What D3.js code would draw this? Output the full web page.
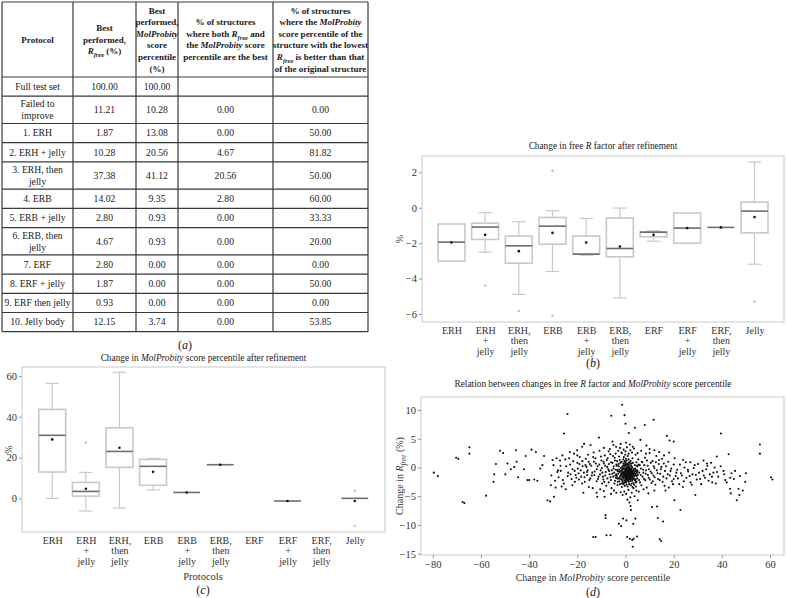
<!DOCTYPE html>
<html><head><meta charset="utf-8">
<script src="https://cdn.jsdelivr.net/npm/d3@7"></script>
<style>
body{margin:0;background:#fff}
svg{display:block}
</style>
</head><body>
<svg id="c" width="786" height="598"></svg>
<script>
// ---------------- DATA ----------------
// (a) table
const tableProtocols = ["Full test set","Failed to\nimprove","1. ERH","2. ERH + jelly","3. ERH, then\njelly","4. ERB","5. ERB + jelly","6. ERB, then\njelly","7. ERF","8. ERF + jelly","9. ERF then jelly","10. Jelly body"];
const bestRfree = ["100.00","11.21","1.87","10.28","37.38","14.02","2.80","4.67","2.80","1.87","0.93","12.15"];
const bestMolProbity = ["100.00","10.28","13.08","20.56","41.12","9.35","0.93","0.93","0.00","0.00","0.00","3.74"];
const bothBest = ["","0.00","0.00","4.67","20.56","2.80","0.00","0.00","0.00","0.00","0.00","0.00"];
const lowestRfreeBetter = ["","0.00","50.00","81.82","50.00","60.00","33.33","20.00","0.00","50.00","0.00","53.85"];

// (b), (c) categories
const protocols = ["ERH","ERH\n+\njelly","ERH,\nthen\njelly","ERB","ERB\n+\njelly","ERB,\nthen\njelly","ERF","ERF\n+\njelly","ERF,\nthen\njelly","Jelly"];

// (b) change in free R factor (%)
const rfreeWhiskerLow  = [-3.02,-2.51,-4.89,-3.60,-2.68,-5.09,-1.89,-2.00,-1.11,-3.19];
const rfreeQ1          = [-3.02,-1.79,-3.13,-2.06,-2.62,-2.77,-1.64,-2.00,-1.11,-1.42];
const rfreeMedian      = [-1.94,-1.09,-2.15,-1.04,-2.62,-2.30,-1.38,-1.15,-1.11,-0.19];
const rfreeQ3          = [-0.92,-0.87,-1.60,-0.55,-1.60,-0.58,-1.36,-0.30,-1.11, 0.32];
const rfreeWhiskerHigh = [-0.92,-0.28,-0.79,-0.17,-0.60,-0.02,-1.30,-0.30,-1.11, 2.58];
const rfreeMean        = [-1.96,-1.53,-2.45,-1.42,-1.96,-2.19,-1.53,-1.15,-1.11,-0.53];
const rfreeOutliers    = [[],[-4.4],[-5.83],[2.09,-6.09],[],[],[],[],[],[-5.3]];
const rfreeTicks = [-6,-4,-2,0,2];

// (c) change in MolProbity score percentile (%)
const molWhiskerLow  = [0.0,-6.2,-4.8, 4.1,2.9,16.5,null,-1.3,null,0.0];
const molQ1          = [12.9, 1.1,15.2, 6.4,2.9,16.5,null,-1.3,null,0.0];
const molMedian      = [30.9, 3.4,23.0,15.7,2.9,16.5,null,-1.3,null,0.0];
const molQ3          = [43.6, 7.8,34.6,19.1,2.9,16.5,null,-1.3,null,0.0];
const molWhiskerHigh = [56.4,12.7,61.8,19.6,2.9,16.5,null,-1.3,null,0.0];
const molMean        = [28.9, 4.7,24.8,13.0,2.9,16.5,null,-1.3,null,-1.3];
const molOutliers    = [[],[27.3],[],[],[],[],[],[],[],[3.7,-13.6]];
const molTicks = [0,20,40,60];

// (d) scatter: [change in MolProbity score percentile, change in Rfree (%)]
const scatterPoints = [
[-79.6,-0.9],[-77.9,-1.5],[-70.3,1.7],[-69.4,1.5],[-64.8,3.5],[-64.8,2.4],[-67.6,-6.0],[-66.9,-6.2],[-57.9,-4.9],
[-54.8,-2.5],[-54.5,-1.2],[-53.8,0.6],[-52.1,2.9],[-50.8,2.5],[-49.9,-1.2],[-49,0.7],[-47.6,-0.3],[-45.5,3.0],
[-45.2,1.0],[-46.2,0.1],[-44.6,-1.7],[-42.1,-0.3],[-41.4,2.0],[-40.7,-2.2],[-40,-2.2],[-39,3.1],[-37.9,-2.1],
[-37.2,2.7],[-36.6,-2.3],[-35.4,-0.2],[-34.5,0.4],[-33.8,2.0],[-32.4,-5.7],[-31.3,-5.9],[-31,-3.1],[-30.3,1.3],
[-29.7,-5.1],[-29,-3.5],[-28.3,-0.8],[-27.2,1.2],[-26.5,-3.3],[-25.5,5.9],[-24.8,-3.8],[-24.1,9.3],[-23.4,1.6],
[-22.8,-1.2],[-22.1,-3.1],[-21.4,2.4],[-20.7,-1.3],[-19.3,-2.1],[-18.6,-0.5],[-17.5,-4.4],[-17.2,4.1],[-16.6,0.4],
[-15.9,-1.3],[-15.2,-3.4],[-14.5,3.9],[-13.4,-12.1],[-12.4,-12.1],[-13.1,1.0],[-11.7,-5.1],[-11,5.2],[-10.3,-0.5],
[-9.7,-2.8],[-8.7,-5.1],[-8.3,-8.3],[-8.3,-8.8],[-7.9,-11.8],[-6.2,-11.8],[-5.9,9.0],[-5.4,4.5],[-4.8,-4.0],
[-4.1,2.4],[-3.4,-1.9],[-2.8,-9.8],[-1.8,-10.2],[-1.4,10.9],[-1.0,-8.9],[-0.4,9.1],[0,7.6],[0.4,-9.2],[0.7,-12.1],
[1.4,6.0],[1.8,-12.4],[2.1,-6.7],[2.3,-7.4],[2.8,-12.6],[3.0,-13.8],[3.2,-9.8],[3.4,-12.4],[3.9,6.9],[4.1,-8.9],
[4.8,-12.0],[5.1,-5.7],[6.2,4.8],[8.0,7.4],[8.7,3.8],[11.0,-6.9],[11.7,8.3],[13.1,-6.8],[13.4,-8.8],[14.2,-12.5],
[14.8,-12.8],[15.6,-9.4],[16.6,-4.0],[17.2,5.5],[18.3,4.7],[20.0,4.5],[20.3,-5.7],[22.8,-7.4],[23.9,1.3],[26.9,0.9],
[29,-4.8],[32.4,1.2],[33.8,0.7],[35.9,-1.6],[37.9,1.9],[39.6,5.9],[40.7,-0.6],[41.4,-2.2],[42.8,2.3],[43.4,-3.7],
[43.7,-4.5],[46.2,-5.7],[46.9,-3.7],[47.3,-4.8],[48.7,-4.0],[49.7,-2.5],[55.8,4.0],[55.8,2.4],[60.4,-1.7],[61,-2.1],
[-28,-0.5],[-27,0.3],[-26,-2.2],[-25,1.4],[-24,-1.5],[-23,0.5],[-22,-0.3],[-21,-2.5],[-20,0.8],[-19.5,-1],[-19,1.8],
[-18,-2.8],[-17.8,0.2],[-17,-1.7],[-16.5,1.5],[-16,-0.8],[-15.5,2.2],[-15,-2.2],[-14.8,0.6],[-14,-1.4],[-13.6,-3.6],
[-13.2,2.6],[-12.8,-0.7],[-12.5,1.6],[-12,-2.4],[-11.6,0.2],[-11.2,-1.6],[-10.8,2.9],[-10.5,-3.8],[-10,1.2],[-9.6,-0.9],
[-9.2,-2.1],[-9,0.7],[-8.6,2.1],[-8.4,-1.4],[-8,-3.2],[-7.6,0.1],[-7.4,1.6],[-7,-2.6],[-6.8,-0.6],[-6.5,3.2],[-6.2,-1.7],
[-6,0.9],[-5.8,-3.6],[-5.5,-1.1],[-5.2,2.0],[-5,-0.2],[-4.6,-2.8],[-4.4,1.2],[-4.2,-1.4],[-3.9,3.6],[-3.6,0.3],[-3.3,-3.1],
[-3,-0.7],[-2.7,1.9],[-2.5,-2.4],[-2.2,0.8],[-2,-1.4],[-1.7,2.6],[-1.5,-3.4],[-1.3,0.1],[-1.1,-0.8],[-0.9,1.4],[-0.7,-2.7],
[-0.6,0.6],[-0.3,-1.5],[-0.1,2.2],
[5,-0.6],[5.3,1.4],[5.6,-2.2],[5.9,0.4],[6.3,-1.3],[6.6,-3.1],[7,0.9],[7.3,-0.4],[7.7,-2.0],[8.1,1.7],[8.4,-1.1],[8.8,-3.5],
[9.2,0.3],[9.6,-1.8],[10,2.5],[10.4,-0.7],[10.8,-2.7],[11.2,1.1],[11.6,-1.4],[12,-0.1],[12.4,-3.0],[12.8,2.0],[13.3,-1.0],
[13.8,0.6],[14.2,-2.2],[14.7,-0.3],[15.2,1.5],[15.7,-1.6],[16.2,-3.2],[16.8,0.2],[17.5,-1.2],[18.1,2.6],[18.7,-0.6],
[19.3,-2.4],[20,0.5],[20.8,-1.5],[21.5,-0.4],[22.3,-2.9],[23,-1.0],[23.8,-3.4],[24.5,0.0],[25.3,-1.8],[26,-0.7],[27,-2.6],
[27.8,-1.2],[28.7,0.4],[29.6,-2.1],[30.5,-0.9],[31.4,-2.9],[32.5,-1.4],[33.5,-0.3],[34.5,-2.3],[35.5,0.8],[36.5,-0.9],
[37.5,-2.8],[38.5,-1.6],[39.5,0.2],[41,-1.2],[42,-2.6],[44,-1.0],[45,-2.0],
[-0.5,-4.2],[0.3,-4.6],[1.2,-3.9],[2,-5.2],[2.6,-4.4],[3.3,-3.6],[-1.2,-4.8],[0.8,-5.6],[1.6,-6.1],[-2,-4.3],[3.8,-5.0],[4.5,-4.0],
[-1.5,2.5],[-0.8,3.1],[0,2.8],[0.6,3.5],[1.3,2.4],[2,3.0],[2.7,2.6],[3.5,3.3],[4.2,2.2],[-2.3,3.4],[0.2,4.3],[1.8,4.0],
[0,-1.0],[0.3,-1.2],[0.6,-0.9],[0.9,-1.5],[1.2,-1.1],[1.5,-0.7],[1.8,-1.3],[2.1,-0.9],[2.4,-1.6],[2.7,-1.0],[0.1,-0.4],
[0.4,-0.2],[0.7,-0.6],[1.0,0.0],[1.3,-0.3],[1.6,-1.8],[1.9,-2.1],[2.2,-0.2],[2.5,-0.5],[2.8,-2.3],[0.2,-1.7],[0.5,-2.0],
[0.8,-2.3],[1.1,-1.9],[1.4,-2.5],[1.7,-0.1],[2.0,-1.5],[2.3,-1.2],[2.6,-2.8],[2.9,-0.7],[-0.2,-1.1],[-0.4,-0.7],[-0.6,-1.4],
[-0.8,-0.3],[-1.0,-1.8],[-1.2,-0.9],[-1.4,-2.2],[-1.6,-0.5],[-1.8,-1.2],[-2.0,-0.1],[0.0,-1.5],[0.2,-0.8],[0.4,-1.6],
[0.6,-1.3],[0.8,-0.5],[1.0,-1.2],[1.2,-0.7],[1.4,-1.0],[1.6,-1.4],[1.8,-0.4],[0.1,-2.2],[0.3,-2.6],[0.5,-0.1],[0.7,0.3],
[0.9,-0.8],[1.1,0.4],[1.3,-1.6],[1.5,0.2],[1.7,-1.0],[1.9,0.6],[3.0,-1.4],[3.2,-0.6],[3.4,-1.9],[3.6,-0.9],[3.8,-1.3],
[4.0,-0.2],[4.2,-2.1],[4.4,-0.7],[4.6,-1.5],[4.8,0.3],[-2.2,-1.6],[-2.4,-0.8],[-2.6,-1.9],[-2.8,0.2],[-3.0,-1.1],[-3.2,-2.5],
[-3.4,-0.4],[-3.6,-1.5],[-3.8,0.5],[-4.0,-1.8],[0.0,-0.6],[0.0,-2.0],[0.1,0.2],[0.2,-1.3],[0.3,0.6],[0.4,-1.0],[0.5,-1.4],
[0.6,-1.8],[0.7,-1.1],[0.8,-1.6],[0.9,-0.3],[1.0,-0.6],[1.1,-1.4],[1.2,-2.2],[1.3,0.8],[1.4,-0.5],[1.5,-1.2],[1.6,-0.3],
[1.7,-2.0],[1.8,-0.8],[2.0,-0.5],[2.1,-1.8],[2.2,-1.0],[2.3,0.3],[2.4,-0.8],[2.5,-2.0],[2.6,-1.2],[2.7,0.1],[2.8,-1.5],
[2.9,-1.1],[-0.1,-1.8],[-0.3,0.3],[-0.5,-2.3],[-0.7,-1.0],[-0.9,0.7],[-1.1,-1.5],[-1.3,-0.2],[-1.5,-2.8],[-1.7,-1.1],
[-1.9,0.9],[3.1,0.8],[3.3,-2.7],[3.5,-0.3],[3.7,-2.0],[3.9,0.4],[4.1,-1.1],[4.3,-2.6],[4.5,0.9],[4.7,-0.5],[4.9,-1.9],
[-19.8,-0.2],[-19.1,0.6],[-18.4,-1.6],[-17.9,1.1],[-17.3,-0.9],[-16.9,-2.5],[-16.2,0.1],[-15.7,-0.5],[-15.3,1.0],[-14.6,-1.9],
[-14.2,0.3],[-13.8,-0.9],[-13.4,1.8],[-12.9,-1.3],[-12.3,0.7],[-11.9,-0.3],[-11.4,-2.0],[-10.9,0.5],[-10.6,-1.2],[-10.2,1.9],
[-9.8,-0.1],[-9.4,-1.6],[-9.1,1.0],[-8.8,-2.5],[-8.5,0.3],[-8.2,-0.8],[-7.8,1.3],[-7.5,-1.9],[-7.2,-0.3],[-6.9,0.6],
[-6.6,-1.2],[-6.3,2.3],[-6.1,-2.2],[-5.7,-0.5],[-5.4,0.8],[-5.1,-1.6],[-4.9,0.2],[-4.7,-0.9],[-4.5,1.7],[-4.3,-2.3],
[-4.1,-0.4],[-3.8,-1.2],[-3.5,1.1],[-3.3,-0.6],[-3.1,-1.9],[-2.9,0.6],[-2.6,-0.4],[-2.4,1.3],[-2.1,-2.0],[-1.9,-0.6],
[-1.6,1.0],[-1.4,-1.1],[-1.2,-2.5],[-1.0,0.3],[-0.8,-1.7],[-0.6,-0.1],[-0.4,1.0],[-0.2,-2.6],[0.0,0.5],[0.2,1.5],
[5.1,-1.3],[5.4,0.5],[5.7,-0.9],[6.0,-2.6],[6.4,-0.2],[6.7,1.0],[7.1,-1.6],[7.4,-0.9],[7.8,0.4],[8.2,-2.2],[8.5,-0.5],
[8.9,1.2],[9.3,-1.3],[9.7,-0.3],[10.1,-2.1],[10.5,0.8],[10.9,-1.0],[11.3,-2.4],[11.7,0.2],[12.1,-1.7],[12.6,0.9],[13.0,-0.5],
[13.5,-2.0],[13.9,1.3],[14.4,-1.1],[14.9,0.1],[15.4,-2.5],[15.9,0.7],[16.4,-0.6],[17.0,-1.9],[17.7,1.0],[18.4,-1.4],
[19.0,-0.2],[19.7,-2.9],[20.4,1.6],[21.1,-0.9],[21.8,-1.9],[22.6,0.5],[23.4,-1.4],[24.2,-2.4],[25.0,0.9],[25.9,-0.4],
[26.6,-1.5],[27.5,-3.0],[28.3,-0.1],[29.2,-1.3],[30.1,0.6],[31.0,-2.0],[32.0,-0.6],[33.0,-1.8],[34.0,0.3],[35.0,-1.2],
[36.0,-2.6],[37.0,0.0],[38.0,-0.8],[43.5,-1.8],[45.5,-0.6],[47.5,-1.5],[50,-1.0],
[-30.8,-1.4],[-29.9,0.4],[-29.2,-2.3],[-28.6,1.6],[-27.8,-1.7],[-26.9,-0.6],[-26.2,2.1],[-25.6,-2.8],[-24.6,0.2],
[-23.8,-0.9],[-23.1,2.7],[-22.4,-2.0],[-21.7,1.1],[-21.1,-0.6],[-20.4,-1.8],[-20.1,3.0],
[0.05,-1.25],[0.35,-0.85],[0.65,-1.55],[0.95,-1.05],[1.25,-0.45],[1.55,-1.65],[1.85,-1.05],[2.15,-1.35],[2.45,-0.25],
[2.75,-1.75],[0.15,-2.45],[0.45,-0.55],[0.75,-2.05],[1.05,-0.95],[1.35,-1.85],[1.65,-0.65],[1.95,-1.55],[2.25,-0.75],
[2.55,-1.45],[2.85,-0.95],[0.25,-0.15],[0.55,-1.05],[0.85,-1.25],[1.15,-2.15],[1.45,-0.15],[1.75,-1.25],[2.05,-2.35],
[2.35,-1.05],[2.65,-0.55],[2.95,-2.05],[-0.15,-0.45],[-0.35,-1.35],[-0.55,-0.85],[-0.75,-1.95],[-0.95,-1.15],[-1.15,-0.35],
[-1.35,-1.65],[-1.55,-0.95],[-1.75,-2.05],[-1.95,-1.45],[3.15,-1.15],[3.35,-0.25],[3.55,-1.55],[3.75,-0.75],[3.95,-2.25],
[4.15,-0.45],[4.35,-1.35],[4.55,-2.45],[4.75,-0.95],[4.95,0.15],[0.1,0.9],[0.5,1.2],[0.9,0.6],[1.3,1.4],[1.7,0.9],
[2.1,1.1],[2.5,0.7],[2.9,1.6],[-0.3,1.1],[-0.7,1.8],[0.4,-3.0],[0.9,-3.3],[1.5,-2.9],[2.2,-3.1],[2.9,-3.4],[-0.3,-3.2],
[-0.9,-2.9],[3.6,-3.0],[4.3,-3.3],[-2.3,-2.9],
[-9,3.4],[-7,2.8],[-5,3.9],[-3,2.9],[-2,4.1],[1,2.0],[3,3.6],[5,2.5],[6.5,2.9],[8.5,2.4],[10,3.2],[12,3.0],[14,2.7],
[-12,-4.4],[-9,-4.1],[-6,-4.6],[-3.8,-4.4],[5.5,-4.2],[7.5,-3.8],[9.5,-4.5],[12,-4.0],[-18,3.6],[-20,2.1],[16,2.1],
[18,-3.5],[20,-2.0]
];
const scatterXTicks = [-80,-60,-40,-20,0,20,40,60];
const scatterYTicks = [-15,-10,-5,0,5,10];

// ---------------- DRAWING ----------------
const FONT = "'Liberation Serif','Times New Roman',serif";
const svg = d3.select("#c").attr("font-family", FONT);
const LIGHT = "#c9c9c9";

function rich(parent, x, y, lines, o) {
  const size = o.size, lh = o.lh || size * 1.15;
  const t = parent.append("text")
    .attr("text-anchor", o.anchor || "middle")
    .attr("font-family", FONT)
    .attr("font-size", size)
    .attr("font-weight", o.weight || 400)
    .attr("fill", o.fill || "#1a1a1a");
  let x0 = x, yc = y;
  if (o.rotate) { t.attr("transform", `translate(${x},${y}) rotate(${o.rotate})`); x0 = 0; yc = 0; }
  const y0 = yc - (lines.length - 1) * lh / 2 + size * 0.35;
  let shift = 0;
  lines.forEach((line, li) => {
    const segs = typeof line === "string" ? [[line]] : line;
    segs.forEach((s, si) => {
      const seg = typeof s === "string" ? [s] : s;
      const st = seg[1] || "";
      const ts = t.append("tspan").text(seg[0]);
      if (si === 0) ts.attr("x", x0);
      if (li === 0 && si === 0) ts.attr("y", y0);
      const target = st.includes("s") ? size * 0.3 : 0;
      const dy = (si === 0 && li > 0 ? lh : 0) + target - shift;
      shift = target;
      if (dy) ts.attr("dy", dy);
      if (st.includes("i")) ts.attr("font-style", "italic");
      if (st.includes("s")) ts.attr("font-size", size * 0.72);
    });
  });
  return t;
}

function panelLabel(x, y, letter) {
  svg.append("text").attr("x", x).attr("y", y).attr("text-anchor", "middle")
    .attr("font-family", FONT).attr("font-size", 12).attr("fill", "#1a1a1a")
    .call(t => { t.append("tspan").text("("); t.append("tspan").attr("font-style","italic").text(letter); t.append("tspan").text(")"); });
}

// ---------- (a) table ----------
(function table() {
  const g = svg.append("g");
  const colX = [2, 73, 136, 178, 273, 368];
  const heights = [75];
  tableProtocols.forEach(p => heights.push(p.includes("\n") ? 27.3 : 19.2));
  const rowY = [2];
  heights.forEach(h => rowY.push(rowY[rowY.length - 1] + h));
  const top = rowY[0], bottom = rowY[rowY.length - 1];
  const stroke = "#3a3a3a";
  rowY.forEach(yy => g.append("line").attr("x1", colX[0]).attr("x2", colX[5]).attr("y1", yy).attr("y2", yy).attr("stroke", stroke).attr("stroke-width", 1.2));
  colX.forEach(xx => g.append("line").attr("x1", xx).attr("x2", xx).attr("y1", top).attr("y2", bottom).attr("stroke", stroke).attr("stroke-width", 1.2));
  const cx = i => (colX[i] + colX[i + 1]) / 2;
  const hy = (rowY[0] + rowY[1]) / 2;
  const H = { size: 9, lh: 11.6, weight: 700 };
  rich(g, cx(0), hy, ["Protocol"], H);
  rich(g, cx(1), hy, ["Best", "performed,", [["R", "i"], ["free", "is"], [" (%)"]]], H);
  rich(g, cx(2), hy, ["Best", "performed,", [["MolProbity", "i"]], "score", "percentile", "(%)"], H);
  rich(g, cx(3), hy, ["% of structures", [["where both "], ["R", "i"], ["free", "is"], [" and"]], [["the "], ["MolProbity", "i"], [" score"]], "percentile are the best"], H);
  rich(g, cx(4), hy, ["% of structures", [["where the "], ["MolProbity", "i"]], "score percentile of the", "structure with the lowest", [["R", "i"], ["free", "is"], [" is better than that"]], "of the original structure"], H);
  const cols = [tableProtocols, bestRfree, bestMolProbity, bothBest, lowestRfreeBetter];
  const B = { size: 9.7, lh: 12.2 };
  tableProtocols.forEach((p, r) => {
    const yy = (rowY[r + 1] + rowY[r + 2]) / 2;
    cols.forEach((col, c) => {
      if (col[r] !== "") rich(g, cx(c), yy, col[r].split("\n"), B);
    });
  });
  panelLabel(185, bottom + 17, "a");
})();

// ---------- box plots ----------
function boxPanel(o) {
  const g = svg.append("g");
  const x = d3.scalePoint().domain(d3.range(protocols.length)).range([o.left, o.right]).padding(o.pad);
  const y = d3.scaleLinear().domain(o.yDomain).range([o.bottom, o.top]);
  const bw = x.step() * 0.8;
  g.append("rect").attr("x", o.left).attr("y", o.top).attr("width", o.right - o.left).attr("height", o.bottom - o.top)
    .attr("fill", "none").attr("stroke", LIGHT).attr("stroke-width", 1);
  const ya = g.append("g").attr("transform", `translate(${o.left},0)`)
    .call(d3.axisLeft(y).tickValues(o.ticks).tickSize(3).tickPadding(2).tickFormat(d3.format("d")));
  ya.select(".domain").remove();
  ya.selectAll("line").attr("stroke", "#999");
  ya.selectAll("text").attr("font-size", 10.5).attr("fill", "#333").attr("font-family", FONT);
  const xa = g.append("g").attr("transform", `translate(0,${o.bottom})`)
    .call(d3.axisBottom(x).tickSize(0).tickFormat(i => protocols[i]));
  xa.select(".domain").remove();
  xa.selectAll("text").attr("font-size", 10).attr("fill", "#333").attr("font-family", FONT)
    .each(function (d) {
      const el = d3.select(this);
      const lines = protocols[d].split("\n");
      el.text(null).attr("dy", null).attr("y", null);
      lines.forEach((l, k) => el.append("tspan").attr("x", 0).attr("y", o.labelY - o.bottom + 3.5 + k * 10.6).text(l));
    });
  const s = o.stats;
  protocols.forEach((p, i) => {
    if (s.q1[i] == null) return;
    const cx = x(i);
    const yq1 = y(s.q1[i]), yq3 = y(s.q3[i]);
    const yl = y(s.wl[i]), yh = y(s.wh[i]);
    if (yh < yq3 - 0.5) {
      g.append("line").attr("x1", cx).attr("x2", cx).attr("y1", yh).attr("y2", yq3).attr("stroke", LIGHT).attr("stroke-width", 1.2);
      g.append("line").attr("x1", cx - bw / 4).attr("x2", cx + bw / 4).attr("y1", yh).attr("y2", yh).attr("stroke", LIGHT).attr("stroke-width", 1.2);
    }
    if (yl > yq1 + 0.5) {
      g.append("line").attr("x1", cx).attr("x2", cx).attr("y1", yq1).attr("y2", yl).attr("stroke", LIGHT).attr("stroke-width", 1.2);
      g.append("line").attr("x1", cx - bw / 4).attr("x2", cx + bw / 4).attr("y1", yl).attr("y2", yl).attr("stroke", LIGHT).attr("stroke-width", 1.2);
    }
    g.append("rect").attr("x", cx - bw / 2).attr("y", yq3).attr("width", bw).attr("height", Math.max(0, yq1 - yq3))
      .attr("fill", "none").attr("stroke", LIGHT).attr("stroke-width", 1.6);
    g.append("line").attr("x1", cx - bw / 2).attr("x2", cx + bw / 2).attr("y1", y(s.med[i])).attr("y2", y(s.med[i]))
      .attr("stroke", "#6e6e6e").attr("stroke-width", 1.6);
    g.append("circle").attr("cx", cx).attr("cy", y(s.mean[i])).attr("r", 1.3).attr("fill", "#111");
    s.out[i].forEach(v => g.append("circle").attr("cx", cx).attr("cy", y(v)).attr("r", 1.2).attr("fill", "#bdbdbd"));
  });
  rich(g, (o.left + o.right) / 2, o.titleY, o.title, { size: 9.3 });
  rich(g, o.yLabelX, (o.top + o.bottom) / 2, ["%"], { size: 10, rotate: -90, fill: "#333" });
  return g;
}

boxPanel({
  left: 422, right: 784, top: 156, bottom: 322, pad: 0.875, yDomain: [-6.45, 2.92], ticks: rfreeTicks,
  labelY: 330, titleY: 146, yLabelX: 399,
  title: [[["Change in free "], ["R", "i"], [" factor after refinement"]]],
  stats: { wl: rfreeWhiskerLow, q1: rfreeQ1, med: rfreeMedian, q3: rfreeQ3, wh: rfreeWhiskerHigh, mean: rfreeMean, out: rfreeOutliers }
});
panelLabel(593, 367, "b");

boxPanel({
  left: 22, right: 385, top: 367, bottom: 532, pad: 0.9, yDomain: [-16.5, 64.4], ticks: molTicks,
  labelY: 540, titleY: 358, yLabelX: 8,
  title: [[["Change in "], ["MolProbity", "i"], [" score percentile after refinement"]]],
  stats: { wl: molWhiskerLow, q1: molQ1, med: molMedian, q3: molQ3, wh: molWhiskerHigh, mean: molMean, out: molOutliers }
});
rich(svg, 203, 576, ["Protocols"], { size: 10.5, fill: "#333" });
panelLabel(203, 594, "c");

// ---------- (d) scatter ----------
(function scatter() {
  const g = svg.append("g");
  const L = 421, R = 784, T = 397, B = 555;
  const x = d3.scaleLinear().domain([-84.9, 65.8]).range([L, R]);
  const y = d3.scaleLinear().domain([-15.23, 12.26]).range([B, T]);
  g.append("rect").attr("x", L).attr("y", T).attr("width", R - L).attr("height", B - T)
    .attr("fill", "none").attr("stroke", LIGHT).attr("stroke-width", 1);
  const xa = g.append("g").attr("transform", `translate(0,${B})`)
    .call(d3.axisBottom(x).tickValues(scatterXTicks).tickSize(3).tickPadding(3).tickFormat(d3.format("d")));
  const ya = g.append("g").attr("transform", `translate(${L},0)`)
    .call(d3.axisLeft(y).tickValues(scatterYTicks).tickSize(3).tickPadding(2).tickFormat(d3.format("d")));
  [xa, ya].forEach(a => {
    a.select(".domain").remove();
    a.selectAll("line").attr("stroke", "#999");
    a.selectAll("text").attr("font-size", 10.5).attr("fill", "#333").attr("font-family", FONT);
  });
  g.append("g").selectAll("circle").data(scatterPoints).join("circle")
    .attr("cx", d => x(d[0])).attr("cy", d => y(d[1])).attr("r", 1.05).attr("fill", "#111");
  rich(g, 593, 384, [[["Relation between changes in free "], ["R", "i"], [" factor and "], ["MolProbity", "i"], [" score percentile"]]], { size: 9.3 });
  rich(g, 593, 577, [[["Change in "], ["MolProbity", "i"], [" score percentile"]]], { size: 10, fill: "#333" });
  rich(g, 399, (T + B) / 2, [[["Change in "], ["R", "i"], ["free", "is"], [" (%)"]]], { size: 10, rotate: -90, fill: "#333" });
  panelLabel(593, 596, "d");
})();
</script>
</body></html>
